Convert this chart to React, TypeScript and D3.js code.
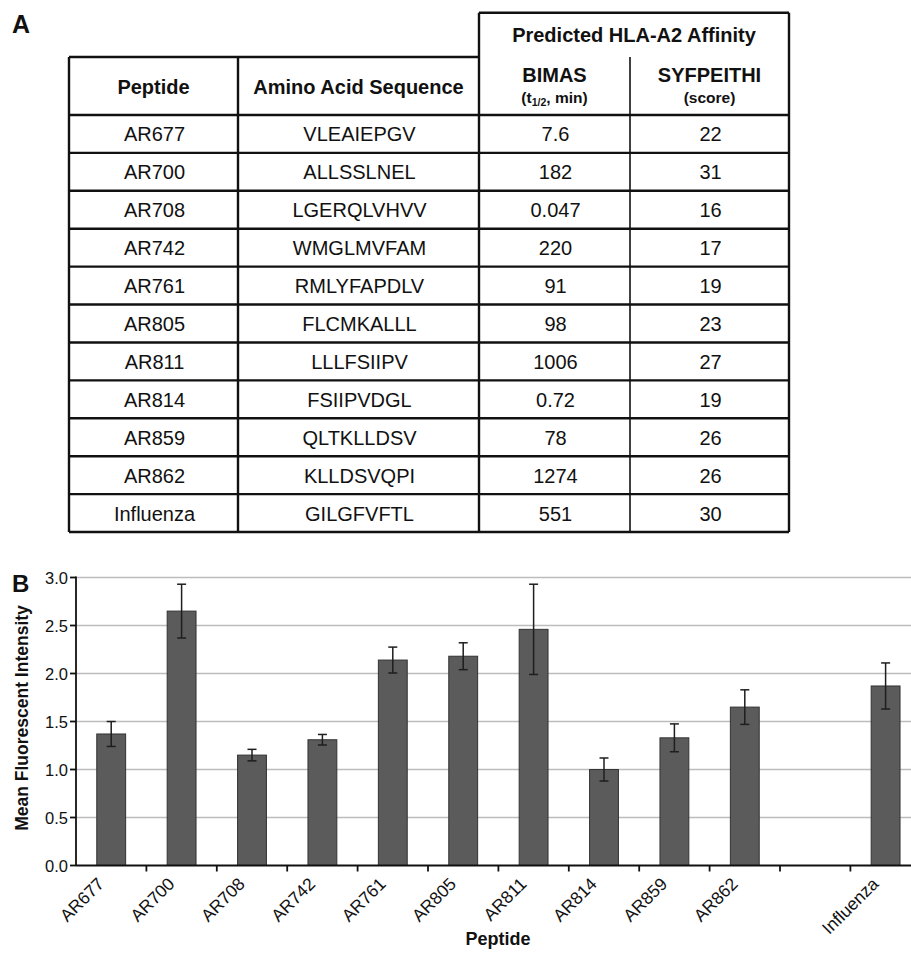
import React from "react";
import * as d3 from "d3";

// Peptide table (panel A)
const peptides = ["AR677", "AR700", "AR708", "AR742", "AR761", "AR805", "AR811", "AR814", "AR859", "AR862", "Influenza"];
const sequences = ["VLEAIEPGV", "ALLSSLNEL", "LGERQLVHVV", "WMGLMVFAM", "RMLYFAPDLV", "FLCMKALLL", "LLLFSIIPV", "FSIIPVDGL", "QLTKLLDSV", "KLLDSVQPI", "GILGFVFTL"];
const bimas = ["7.6", "182", "0.047", "220", "91", "98", "1006", "0.72", "78", "1274", "551"];
const syfpeithi = ["22", "31", "16", "17", "19", "23", "27", "19", "26", "26", "30"];

// T2 stabilization assay (panel B)
const meanIntensity = [1.37, 2.65, 1.15, 1.31, 2.14, 2.18, 2.46, 1.0, 1.33, 1.65, 1.87];
const errorIntensity = [0.13, 0.28, 0.06, 0.055, 0.135, 0.14, 0.47, 0.12, 0.145, 0.18, 0.24];
const yTicks = [0, 0.5, 1.0, 1.5, 2.0, 2.5, 3.0];

const FONT = "'Liberation Sans', Arial, Helvetica, sans-serif";
const W = 911;
const H = 953;

function Table() {
  const left = 69;
  const colX = [69, 238, 479, 630, 789];
  const topGroup = 12.7;
  const headTop = 57;
  const bodyTop = 115;
  const bodyBottom = 532;
  const rowY = d3.scaleBand<number>().domain(d3.range(peptides.length)).range([bodyTop, bodyBottom]);
  const centers = colX.slice(0, 4).map((x, i) => (x + colX[i + 1]) / 2);
  const lw = 2.4;
  const cols = [peptides, sequences, bimas, syfpeithi];
  return (
    <g fontFamily={FONT} fill="#111">
      <text x={12} y={33} fontSize={25} fontWeight="bold">A</text>
      {/* borders */}
      <g stroke="#111" strokeWidth={lw} fill="none">
        <line x1={left} x2={colX[2]} y1={headTop} y2={headTop} />
        <line x1={colX[2]} x2={colX[4]} y1={topGroup} y2={topGroup} />
        <line x1={left} x2={left} y1={headTop} y2={bodyBottom} />
        <line x1={colX[1]} x2={colX[1]} y1={headTop} y2={bodyBottom} />
        <line x1={colX[2]} x2={colX[2]} y1={topGroup} y2={bodyBottom} />
        <line x1={colX[3]} x2={colX[3]} y1={headTop} y2={bodyBottom} strokeWidth={1.6} />
        <line x1={colX[4]} x2={colX[4]} y1={topGroup} y2={bodyBottom} />
        {d3.range(peptides.length + 1).map((i) => {
          const y = i < peptides.length ? rowY(i)! : bodyBottom;
          return <line key={i} x1={left} x2={colX[4]} y1={y} y2={y} />;
        })}
      </g>
      {/* header */}
      <g fontWeight="bold" textAnchor="middle">
        <text x={(colX[2] + colX[4]) / 2} y={42} fontSize={20}>Predicted HLA-A2 Affinity</text>
        <text x={centers[0]} y={94} fontSize={20}>Peptide</text>
        <text x={centers[1]} y={94} fontSize={20}>Amino Acid Sequence</text>
        <text x={centers[2]} y={82} fontSize={20}>BIMAS</text>
        <text x={centers[2]} y={103} fontSize={15.5}>
          (t<tspan fontSize={10.5} dy={3}>1/2</tspan>
          <tspan dy={-3}>, min)</tspan>
        </text>
        <text x={centers[3]} y={82} fontSize={20}>SYFPEITHI</text>
        <text x={centers[3]} y={103} fontSize={15.5}>(score)</text>
      </g>
      {/* body */}
      <g fontSize={20} textAnchor="middle">
        {cols.map((col, c) =>
          col.map((v, i) => (
            <text key={`${c}-${i}`} x={centers[c] + 1} y={rowY(i)! + rowY.bandwidth() / 2 + 7.5}>
              {v}
            </text>
          ))
        )}
      </g>
    </g>
  );
}

function BarChart() {
  const x0 = 76;
  const step = 70.4;
  // one empty slot separates the AR peptides from the influenza control
  const slots = [...peptides.slice(0, -1), "", peptides[peptides.length - 1]];
  const x = d3.scaleBand<string>().domain(slots).range([x0, x0 + step * slots.length]).padding(0);
  const y = d3.scaleLinear().domain([0, 3]).range([865.5, 577.5]);
  const barW = x.bandwidth() * 0.41;
  const capW = 9;
  const centerOf = (name: string) => x(name)! + x.bandwidth() / 2;

  return (
    <g fontFamily={FONT} fill="#111">
      <text x={12} y={592} fontSize={24} fontWeight="bold">B</text>
      {/* grid */}
      <g stroke="#bdbdbd" strokeWidth={1.5}>
        {yTicks.filter((t) => t > 0).map((t) => (
          <line key={t} x1={x0} x2={W} y1={y(t)} y2={y(t)} />
        ))}
      </g>
      {/* bars */}
      <g>
        {peptides.map((p, i) => {
          const cx = centerOf(p);
          return (
            <rect
              key={p}
              x={cx - barW / 2}
              y={y(meanIntensity[i])}
              width={barW}
              height={y(0) - y(meanIntensity[i])}
              fill="#5b5b5b"
              stroke="#333"
              strokeWidth={1}
            />
          );
        })}
      </g>
      {/* error bars */}
      <g stroke="#1e1e1e" strokeWidth={1.5}>
        {peptides.map((p, i) => {
          const cx = centerOf(p);
          const hi = y(meanIntensity[i] + errorIntensity[i]);
          const lo = y(meanIntensity[i] - errorIntensity[i]);
          return (
            <g key={p}>
              <line x1={cx} x2={cx} y1={hi} y2={lo} />
              <line x1={cx - capW / 2} x2={cx + capW / 2} y1={hi} y2={hi} />
              <line x1={cx - capW / 2} x2={cx + capW / 2} y1={lo} y2={lo} />
            </g>
          );
        })}
      </g>
      {/* axes */}
      <g stroke="#111" strokeWidth={1.8}>
        <line x1={x0} x2={x0} y1={y(3) - 1} y2={y(0)} />
        <line x1={x0} x2={W} y1={y(0)} y2={y(0)} />
        {yTicks.map((t) => (
          <line key={t} x1={x0 - 6} x2={x0} y1={y(t)} y2={y(t)} />
        ))}
        {slots.slice(1).map((s, i) => (
          <line key={i} x1={x(s)!} x2={x(s)!} y1={y(0)} y2={y(0) + 6} />
        ))}
      </g>
      <g fontSize={16.5} textAnchor="end">
        {yTicks.map((t) => (
          <text key={t} x={68} y={y(t) + 6}>{t.toFixed(1)}</text>
        ))}
      </g>
      <g fontSize={17.5} textAnchor="end">
        {peptides.map((p) => {
          const ax = centerOf(p) - 6;
          const ay = 885;
          return (
            <text key={p} x={ax} y={ay} transform={`rotate(-45 ${ax} ${ay})`}>{p}</text>
          );
        })}
      </g>
      <text
        x={0}
        y={0}
        fontSize={17.5}
        fontWeight="bold"
        textAnchor="middle"
        transform={`translate(28 ${718}) rotate(-90)`}
      >
        Mean Fluorescent Intensity
      </text>
      <text x={498} y={945} fontSize={18} fontWeight="bold" textAnchor="middle">Peptide</text>
    </g>
  );
}

export default function App() {
  return (
    <svg
      width={W}
      height={H}
      viewBox={`0 0 ${W} ${H}`}
      style={{ position: "absolute", left: 0, top: 0, background: "#fff" }}
    >
      <rect width={W} height={H} fill="#fff" />
      <Table />
      <BarChart />
    </svg>
  );
}
